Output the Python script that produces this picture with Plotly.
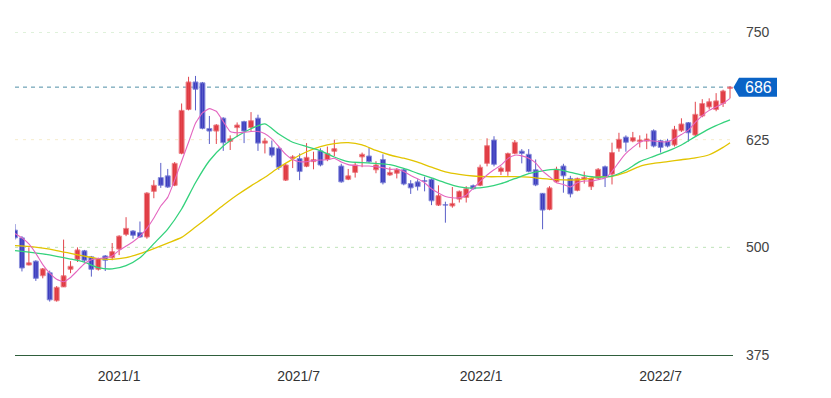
import pandas as pd
import plotly.graph_objects as go

# ---------------- data (weekly candles) ----------------
start_week = "2020-09-18"

opens = [520, 511, 479.5, 484, 467, 470.5, 438, 454, 474.5, 486,
         496, 489, 474.5, 490, 488, 498, 515, 519, 517, 512,
         565, 581, 583, 572, 609, 660, 692, 691, 638, 635,
         650, 623, 639, 646, 639, 650, 621, 616, 615, 578,
         603.5, 603, 594, 599.5, 612, 602, 611.5, 594.4, 579, 587,
         605, 606, 590, 602, 584, 586, 590, 574, 576, 577.5,
         579, 549, 549.5, 548, 556, 558, 571.6, 572, 597.5, 624.6,
         588, 588, 609, 611.7, 608, 590, 562.7, 544, 576, 594.4,
         580, 566, 579, 570.4, 580, 593.6, 585, 615, 628, 623.4,
         622.7, 623.4, 635.4, 623.8, 623.4, 618.8, 635.4, 644.7, 630.4, 652.5,
         663, 660, 667, 684.6]

highs = [527, 513, 500, 485, 476, 473, 455, 509, 484, 500,
         497, 490, 488, 491, 505, 514, 535, 520, 530, 564,
         578, 598, 591, 599, 667, 698, 699, 692, 652.5, 643,
         651, 630, 645, 647, 657, 654, 627, 624, 617, 597,
         607, 609, 621, 611, 615, 617, 625, 597, 591, 599,
         610, 616, 600, 608, 593, 592, 591, 578, 579, 582,
         580, 572, 553, 570, 566, 571, 573, 596, 626.6, 629,
         594, 610, 624.6, 614, 614, 602, 563, 571, 593.6, 597,
         583, 581, 588, 581, 592, 595, 621.5, 633, 630, 634,
         630, 632, 637, 625, 626, 641, 649.8, 645.5, 669, 672,
         673, 679, 683, 687]

lows = [509, 472, 479, 461, 464, 437, 437, 454, 470, 483,
        483, 466, 473, 472.5, 485, 491, 513, 510, 511, 510,
        557, 569, 569, 571, 608, 659, 659, 637, 620, 620,
        612, 613, 628, 621, 635, 612, 609, 604.5, 590, 577,
        592, 578, 593, 590.6, 594, 600, 606, 575, 578, 581,
        593, 598, 586, 573, 583, 580, 572, 562, 566, 565,
        549, 548, 528.6, 546, 552, 552, 567, 571, 594, 594,
        584, 583, 608, 597.5, 587, 571, 521, 543, 575, 563.4,
        558, 565, 574, 566.6, 579, 570, 573, 611, 611, 622,
        616, 614, 616, 610, 616, 617, 634, 622.7, 629, 651,
        660, 658, 663, 673]

closes = [511, 476, 482, 464, 475, 439, 453.6, 467, 478, 497,
          485, 474.5, 487, 485, 495, 513, 522, 514, 512, 563,
          572, 572, 570, 597.5, 659, 692, 683.5, 638, 635, 642,
          621.5, 626, 642, 635, 647, 621, 623.5, 607, 593, 595.6,
          605, 588, 604.5, 602, 595.6, 609, 614.5, 576, 583, 595.6,
          608, 599.4, 595.6, 575, 587, 590, 573.5, 569, 570.5, 576.5,
          554, 560, 549, 551, 565, 568, 568, 593, 618, 596.4,
          592, 609, 622, 609, 588, 572.4, 543.3, 569, 590.6, 583,
          562, 580, 581.3, 580, 590.6, 582, 610, 625.4, 622, 627.3,
          624.6, 625.8, 617.6, 616, 617.6, 637, 643.2, 633, 654.4, 667,
          669, 670, 681.5, 686]

# moving-average lines
ma_short = [516, 511, 504, 493, 480, 470, 463, 460, 465, 473,
            481, 485.5, 487, 488, 490, 496.5, 501.5, 506.5, 513, 522,
            534, 548, 558, 578, 600, 622, 644, 656, 661, 658,
            646, 634.5, 633, 633.5, 634.5, 634.5, 632, 626, 617, 608,
            602, 599.4, 599.4, 600.7, 601.4, 601.6, 603.5, 599, 596, 595,
            594.4, 594.4, 593.5, 592.5, 590.5, 591, 588, 583.5, 579.5, 575,
            568, 563, 559, 557.5, 557.5, 560.5, 568.5, 576.5, 584, 590,
            595.5, 603, 607, 606.2, 603.5, 598, 588.5, 582, 575, 573,
            570, 575, 577, 577, 578.5, 580.5, 588, 599, 609, 616,
            622, 624, 623.4, 622.5, 622.5, 626, 631, 636, 645, 653,
            659, 663, 667, 673]

ma_mid = [496.1, 494.4, 492.3, 489.6, 486.4, 482.7, 476.4, 475, 478.8, 487.8,
          504.3, 521.2, 544.5, 575, 600.5, 617.7, 629, 637.7, 643.3, 631.5,
          622, 617, 612.3, 604.9, 599.4, 598.3, 597.4, 596, 591.6, 586,
          580.6, 574.9, 570.3, 568.8, 570.2, 574, 579.7, 585.5, 588.8, 590.4,
          587, 583.3, 581.5, 582.7, 589.5, 599.5, 605.6, 611.6, 618.8, 628.5,
          637.6, 644.8, 648]

ma_long = [502, 501, 499, 496.3, 493, 489.7, 486.8, 486.1, 488, 492.7,
           498.6, 505, 511.5, 523.5, 536, 548.8, 560.7, 571.4, 581.3, 592.6,
           602.4, 611, 617, 620.4, 621.5, 619, 612.5, 607.2, 603.5, 598.8,
           593, 587.6, 584.7, 582.8, 582, 582, 582, 581.4, 579.8, 578.6,
           578.2, 579, 581.7, 582.5, 587, 594.1, 597.4, 599.5, 601.7, 603.8,
           607.5, 616, 621.5]

x_tick_dates = ["2021-01-01", "2021-07-01", "2022-01-01", "2022-07-01"]
x_tick_text = ["2021/1", "2021/7", "2022/1", "2022/7"]
y_ticks = [375, 500, 625, 750]
y_grid_colors = ["#2f5e3c", "#bfe3b8", "#f6eccd", "#bfe3b8"]

# ---------------- build ----------------
dates = pd.date_range(start_week, periods=len(closes), freq="7D")
ma_dates = list(dates[::2]) + [dates[-1]]

UP_FILL, UP_LINE, UP_WICK = "#e03a42", "#ee8a90", "#e2464e"
DN_FILL, DN_LINE, DN_WICK = "#3d3dbf", "#8d92dc", "#5a5fc8"
FONT = "Liberation Sans, Arial, sans-serif"
BODY_MS = 5.0 * 86400000  # body width in the date axis units

fig = go.Figure()

for is_up, fill, edge, wick in [(True, UP_FILL, UP_LINE, UP_WICK),
                                (False, DN_FILL, DN_LINE, DN_WICK)]:
    sel = [i for i in range(len(closes)) if (closes[i] >= opens[i]) == is_up]
    wx, wy = [], []
    for i in sel:
        wx += [dates[i], dates[i], None]
        wy += [lows[i], highs[i], None]
    fig.add_trace(go.Scatter(x=wx, y=wy, mode="lines", line=dict(color=wick, width=1),
                             hoverinfo="skip", showlegend=False))
    fig.add_trace(go.Bar(
        x=[dates[i] for i in sel],
        y=[max(abs(closes[i] - opens[i]), 0.6) for i in sel],
        base=[min(opens[i], closes[i]) for i in sel],
        width=BODY_MS,
        marker=dict(color=fill, line=dict(color=edge, width=1)),
        hoverinfo="skip", showlegend=False,
    ))

fig.add_trace(go.Scatter(x=ma_dates, y=ma_long, mode="lines",
                         line=dict(color="#e2c400", width=1.3, shape="spline", smoothing=0.6),
                         hoverinfo="skip", showlegend=False))
fig.add_trace(go.Scatter(x=ma_dates, y=ma_mid, mode="lines",
                         line=dict(color="#34d27c", width=1.3, shape="spline", smoothing=0.6),
                         hoverinfo="skip", showlegend=False))
fig.add_trace(go.Scatter(x=dates, y=ma_short, mode="lines",
                         line=dict(color="#e466c0", width=1.1, shape="spline", smoothing=0.4),
                         hoverinfo="skip", showlegend=False))

shapes = []
for yv, col in zip(y_ticks, y_grid_colors):
    if yv == y_ticks[0]:
        continue
    shapes.append(dict(type="line", xref="paper", x0=0, x1=1, yref="y", y0=yv, y1=yv,
                       line=dict(color=col, width=1, dash="3px,5px"), layer="below"))

last = closes[-1]
shapes.append(dict(type="line", xref="paper", x0=0, x1=1, yref="y", y0=last, y1=last,
                   line=dict(color="#4f8fa6", width=1, dash="4px,4px"), layer="below"))
shapes.append(dict(type="path", xref="paper", yref="y",
                   xsizemode="pixel", ysizemode="pixel", xanchor=1, yanchor=last,
                   path="M 0.5,0 L 6,9.5 L 44,9.5 L 44,-9.5 L 6,-9.5 Z",
                   fillcolor="#0a63c6", line=dict(width=0), layer="above"))

# the page body adds an 8px offset, so margins are reduced by 8 on top/left
fig.update_layout(
    width=831, height=398,
    margin=dict(l=7, r=106, t=24, b=51, autoexpand=False),
    paper_bgcolor="white", plot_bgcolor="white",
    showlegend=False, barmode="overlay",
    shapes=shapes,
    annotations=[dict(x=1, xref="paper", y=last, yref="y", xshift=25, yshift=0,
                      text=f"{last:.0f}", showarrow=False, xanchor="center", yanchor="middle",
                      font=dict(family=FONT, size=16, color="white"))],
    xaxis=dict(
        type="date", range=["2020-09-18", "2022-09-12"],
        automargin=False,
        tickvals=x_tick_dates, ticktext=x_tick_text,
        showgrid=False, zeroline=False,
        showline=True, linecolor=y_grid_colors[0], linewidth=1.3,
        ticks="", ticklabelstandoff=8,
        tickfont=dict(family=FONT, size=14, color="#333333"),
    ),
    yaxis=dict(
        side="right", range=[375, 750], automargin=False,
        tickvals=y_ticks, ticktext=[str(v) for v in y_ticks],
        showgrid=False, zeroline=False, showline=False,
        ticks="", ticklabelstandoff=12,
        tickfont=dict(family=FONT, size=14, color="#444444"),
    ),
)

fig.write_html("out.html")
